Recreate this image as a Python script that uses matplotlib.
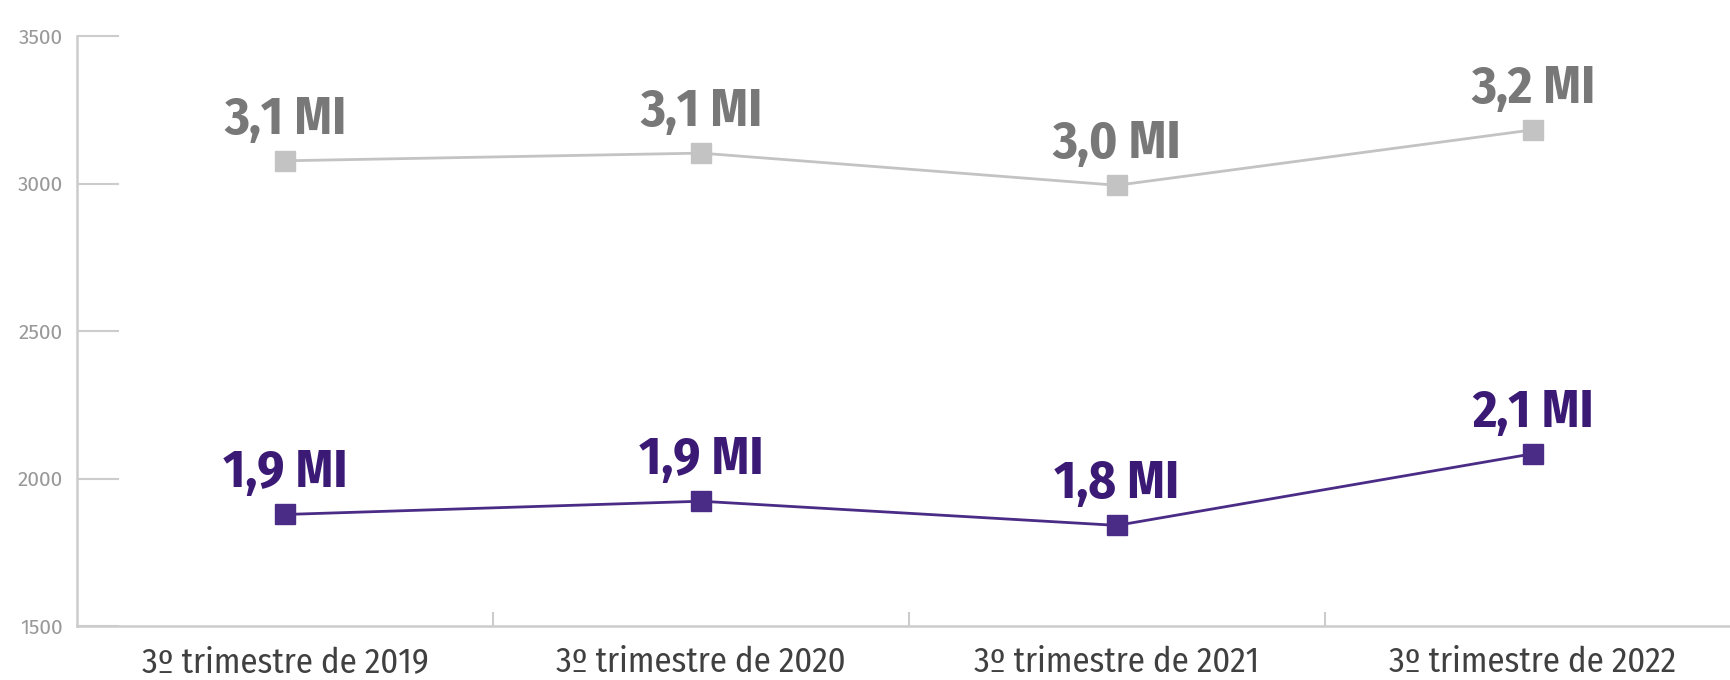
import matplotlib.pyplot as plt
import numpy as np

plt.rcParams['font.family'] = ['Fira Sans Condensed', 'Asap Condensed',
                               'Roboto Condensed', 'DejaVu Sans']

categories = ['3º trimestre de 2019', '3º trimestre de 2020',
              '3º trimestre de 2021', '3º trimestre de 2022']
total = [3077, 3103, 2994, 3182]
total_labels = ['3,1 MI', '3,1 MI', '3,0 MI', '3,2 MI']
ocupados = [1878, 1923, 1841, 2084]
ocupados_labels = ['1,9 MI', '1,9 MI', '1,8 MI', '2,1 MI']
y_ticks = [1500, 2000, 2500, 3000, 3500]

gray_line = '#c3c3c3'
gray_text = '#787878'
purple_line = '#4a2c86'
purple_text = '#3a1a74'
axis_col = '#cccccc'

fig = plt.figure(figsize=(17.3, 6.8), dpi=100)
ax = fig.add_axes([77 / 1730, 54 / 680, 1664 / 1730, 590 / 680])

x = np.arange(len(categories))
ax.plot(x, total, color=gray_line, lw=2, marker='s', ms=14,
        mfc=gray_line, mec=gray_line, zorder=3)
ax.plot(x, ocupados, color=purple_line, lw=2, marker='s', ms=14,
        mfc=purple_line, mec=purple_line, zorder=3)

for xi, v, t in zip(x, total, total_labels):
    ax.annotate(t, (xi, v), xytext=(0, 11), textcoords='offset points',
                ha='center', va='bottom', fontsize=38, fontweight='bold',
                color=gray_text)
for xi, v, t in zip(x, ocupados, ocupados_labels):
    ax.annotate(t, (xi, v), xytext=(0, 11), textcoords='offset points',
                ha='center', va='bottom', fontsize=38, fontweight='bold',
                color=purple_text)

ax.set_xlim(-0.5, 3.5)
ax.set_ylim(1500, 3500)

ax.set_yticks(y_ticks)
ax.set_yticklabels([str(v) for v in y_ticks], family=['Fira Sans', 'DejaVu Sans'])
ax.tick_params(axis='y', direction='in', length=30, width=1.5, color=axis_col,
               labelsize=15, labelcolor='#999999', pad=10)

ax.set_xticks(x)
ax.set_xticklabels(categories)
ax.tick_params(axis='x', which='major', length=0, labelsize=25,
               labelcolor='#404040', pad=14)
ax.set_xticks([0.5, 1.5, 2.5], minor=True)
ax.tick_params(axis='x', which='minor', direction='in', length=10, width=1.5,
               color=axis_col)

for side in ['top', 'right']:
    ax.spines[side].set_visible(False)
for side in ['left', 'bottom']:
    ax.spines[side].set_color(axis_col)
    ax.spines[side].set_linewidth(1.8)

fig.savefig('out.png', dpi=100)
